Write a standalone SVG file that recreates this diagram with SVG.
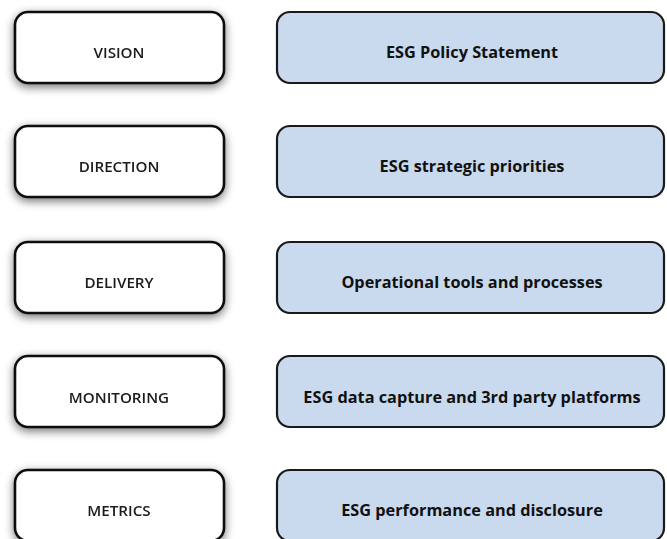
<svg xmlns="http://www.w3.org/2000/svg" width="667" height="539" viewBox="0 0 667 539">
  <defs>
    <filter id="glow" x="-20%" y="-40%" width="140%" height="190%">
      <feGaussianBlur in="SourceAlpha" stdDeviation="5"/>
      <feOffset dx="0" dy="3" result="b"/>
      <feComponentTransfer><feFuncA type="linear" slope="0.55"/></feComponentTransfer>
      <feMerge><feMergeNode/><feMergeNode in="SourceGraphic"/></feMerge>
    </filter>
  </defs>
  <style>
    .stage { fill: #ffffff; stroke: #111111; stroke-width: 2.6; }
    .item { fill: #c9d9ee; stroke: #1a1a1a; stroke-width: 2.2; }
    .lbl { font-family: "Open Sans", "Liberation Sans", sans-serif; font-size: 15.2px; font-weight: 600; fill: #1a1a1a; text-anchor: middle; }
    .txt { font-family: "Open Sans", "Liberation Sans", sans-serif; font-size: 16.3px; font-weight: 700; fill: #111111; text-anchor: middle; }
  </style>
  <rect width="667" height="539" fill="#ffffff"/>

  <!-- left column: stages -->
  <g id="vision" filter="url(#glow)">
    <rect class="stage" x="15" y="12" width="209" height="71" rx="13"/>
    <text class="lbl" x="119" y="58">VISION</text>
  </g>
  <g id="direction" filter="url(#glow)">
    <rect class="stage" x="15" y="126" width="209" height="71" rx="13"/>
    <text class="lbl" x="119" y="172">DIRECTION</text>
  </g>
  <g id="delivery" filter="url(#glow)">
    <rect class="stage" x="15" y="242" width="209" height="71" rx="13"/>
    <text class="lbl" x="119" y="288">DELIVERY</text>
  </g>
  <g id="monitoring" filter="url(#glow)">
    <rect class="stage" x="15" y="356" width="209" height="71" rx="13"/>
    <text class="lbl" x="119" y="402.5">MONITORING</text>
  </g>
  <g id="metrics" filter="url(#glow)">
    <rect class="stage" x="15" y="470" width="209" height="71" rx="13"/>
    <text class="lbl" x="119" y="516">METRICS</text>
  </g>

  <!-- right column: items -->
  <g id="policy">
    <rect class="item" x="277" y="12" width="387" height="71" rx="13"/>
    <text class="txt" x="472" y="58">ESG Policy Statement</text>
  </g>
  <g id="priorities">
    <rect class="item" x="277" y="126" width="387" height="71" rx="13"/>
    <text class="txt" x="472" y="172">ESG strategic priorities</text>
  </g>
  <g id="tools">
    <rect class="item" x="277" y="242" width="387" height="71" rx="13"/>
    <text class="txt" x="472" y="288">Operational tools and processes</text>
  </g>
  <g id="data">
    <rect class="item" x="277" y="356" width="387" height="71" rx="13"/>
    <text class="txt" x="472" y="403">ESG data capture and 3rd party platforms</text>
  </g>
  <g id="performance">
    <rect class="item" x="277" y="470" width="387" height="71" rx="13"/>
    <text class="txt" x="472" y="516">ESG performance and disclosure</text>
  </g>

  <g id="connectors"></g>
</svg>
